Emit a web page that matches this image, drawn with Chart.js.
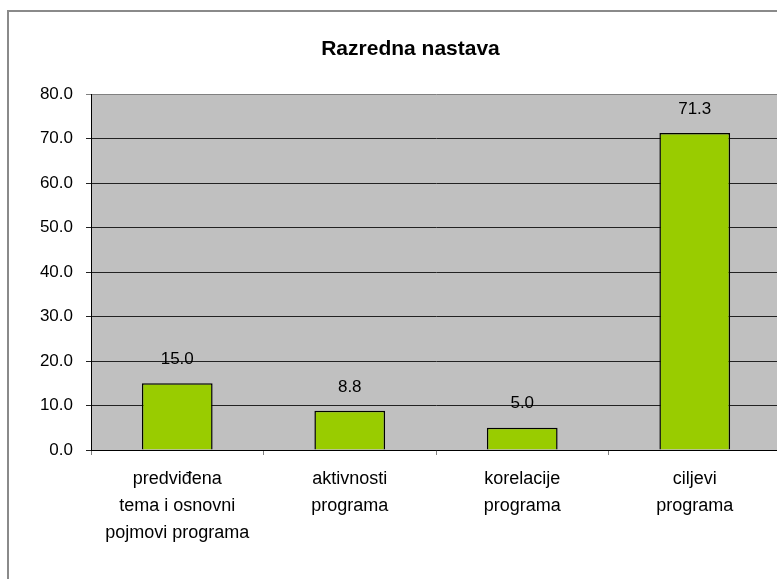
<!DOCTYPE html>
<html>
<head>
<meta charset="utf-8">
<script src="https://cdn.jsdelivr.net/npm/chart.js@4/dist/chart.umd.min.js"></script>
<style>
  html, body { margin: 0; padding: 0; background: #fff; overflow: hidden; width: 777px; height: 579px; }
  #frame { position: absolute; left: 7px; top: 10px; width: 900px; height: 700px; border-left: 2px solid #8a8a8a; border-top: 2px solid #8a8a8a; }
  #c { position: absolute; left: 0; top: 0; }
</style>
</head>
<body>
<div id="frame"></div>
<canvas id="c" width="820" height="579"></canvas>
<script>
const title = "Razredna nastava";
const categories = [
  ["predviđena", "tema i osnovni", "pojmovi programa"],
  ["aktivnosti", "programa"],
  ["korelacije", "programa"],
  ["ciljevi", "programa"]
];
const values = [15.0, 8.8, 5.0, 71.3];
const yTicks = [0, 10, 20, 30, 40, 50, 60, 70, 80];

const FONT = "'Liberation Sans', Arial, sans-serif";

const plotBg = {
  id: 'plotBg',
  beforeDraw(chart) {
    const a = chart.chartArea, ctx = chart.ctx;
    ctx.save();
    ctx.fillStyle = '#C0C0C0';
    ctx.fillRect(a.left, a.top, a.right - a.left, a.bottom - a.top);
    ctx.restore();
  }
};

const valueLabels = {
  id: 'valueLabels',
  afterDatasetsDraw(chart) {
    const ctx = chart.ctx;
    const meta = chart.getDatasetMeta(0);
    ctx.save();
    ctx.font = "17px " + FONT;
    ctx.fillStyle = '#000';
    ctx.textAlign = 'center';
    ctx.textBaseline = 'middle';
    meta.data.forEach((bar, i) => {
      ctx.fillText(values[i].toFixed(1), bar.x, bar.y - 24);
    });
    ctx.restore();
  }
};

new Chart(document.getElementById('c'), {
  type: 'bar',
  data: {
    labels: categories,
    datasets: [{
      data: values,
      backgroundColor: '#99CC00',
      borderColor: '#000000',
      borderWidth: 1.5,
      barPercentage: 0.41,
      categoryPercentage: 1.0
    }]
  },
  options: {
    responsive: false,
    animation: false,
    devicePixelRatio: 1,
    layout: { padding: { left: 40, right: 39, top: 0, bottom: 0 } },
    plugins: {
      legend: { display: false },
      tooltip: { enabled: false },
      title: {
        display: true,
        text: title,
        color: '#000',
        font: { family: FONT, size: 21, weight: 'bold', lineHeight: 1.2 },
        padding: { top: 37, bottom: 32 }
      }
    },
    scales: {
      x: {
        offset: true,
        grid: { offset: true, drawOnChartArea: false, drawTicks: true, tickLength: 5, color: '#808080' },
        border: { display: true, color: '#000', width: 1 },
        ticks: {
          color: '#000',
          maxRotation: 0,
          autoSkip: false,
          padding: 11,
          font: { family: FONT, size: 18, lineHeight: '27px' }
        },
        afterFit(s) { s.height = 129; }
      },
      y: {
        min: 0,
        max: 80,
        afterBuildTicks(s) { s.ticks = yTicks.map(v => ({ value: v })); },
        grid: {
          color: (c) => (c.tick && c.tick.value === 80) ? '#808080' : '#222',
          lineWidth: 1,
          tickLength: 5,
          drawTicks: true
        },
        border: { display: true, color: '#000', width: 1 },
        ticks: {
          color: '#000',
          padding: 13,
          font: { family: FONT, size: 17 },
          callback: (v) => Number(v).toFixed(1)
        },
        afterFit(s) { s.width = 51; }
      }
    }
  },
  plugins: [plotBg, valueLabels]
});
</script>
</body>
</html>
